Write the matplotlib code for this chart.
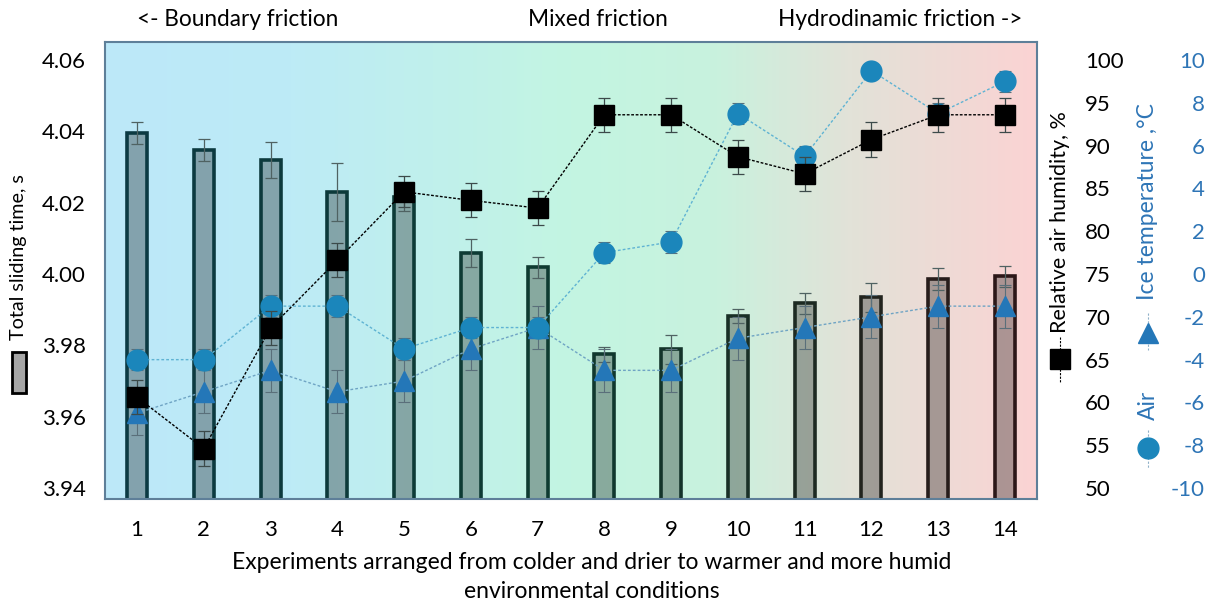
import numpy as np
import matplotlib
matplotlib.use('Agg')
import matplotlib.pyplot as plt
from matplotlib.colors import LinearSegmentedColormap
from matplotlib.lines import Line2D
from matplotlib.patches import Rectangle

plt.rcParams['font.family'] = ['Lato', 'DejaVu Sans']
plt.rcParams['axes.unicode_minus'] = False

# experiments 1..14, ordered cold/dry -> warm/humid
experiments = list(range(1, 15))

# total sliding time, s (bars)
sliding_time = [4.0395, 4.0348, 4.0320, 4.0230, 4.0216, 4.0059, 4.0019,
                3.9775, 3.9789, 3.9882, 3.9918, 3.9935, 3.9986, 3.9994]
sliding_err = [0.003, 0.003, 0.005, 0.008, 0.004, 0.004, 0.003,
               0.002, 0.004, 0.002, 0.003, 0.004, 0.003, 0.003]

# relative air humidity, %
humidity = [60.6, 54.6, 68.7, 76.6, 84.6, 83.6, 82.7,
            93.6, 93.6, 88.7, 86.7, 90.7, 93.6, 93.6]
humidity_err = [2, 2, 2, 2, 1.8, 2, 2, 2, 2, 2, 2, 2, 2, 2]

# air temperature, C
air_temp = [-4, -4, -1.5, -1.5, -3.5, -2.5, -2.5,
            1.0, 1.5, 7.5, 5.5, 9.5, 7.5, 9.0]
air_err = [0.5, 0.5, 0.5, 0.5, 0.5, 0.5, 0.5,
           0.5, 0.5, 0.5, 0.5, 0.3, 0.5, 0.5]

# ice temperature, C
ice_temp = [-6.5, -5.5, -4.5, -5.5, -5.0, -3.5, -2.5,
            -4.5, -4.5, -3.0, -2.5, -2.0, -1.5, -1.5]
ice_err = [1.0, 1.0, 1.0, 1.0, 1.0, 1.0, 1.0,
           1.0, 1.0, 1.0, 1.0, 1.0, 1.0, 1.0]

left_ticks = [3.94, 3.96, 3.98, 4.00, 4.02, 4.04, 4.06]
humidity_ticks = [50, 55, 60, 65, 70, 75, 80, 85, 90, 95, 100]
temp_ticks = [-10, -8, -6, -4, -2, 0, 2, 4, 6, 8, 10]

BLUE = '#2e75b6'
FRAME = '#5e7f99'

fig = plt.figure(figsize=(12.15, 6.03), dpi=100)
ax = fig.add_axes([0.0864, 0.1725, 0.7671, 0.7578])

# background: blue -> mint -> pink
bg = LinearSegmentedColormap.from_list('bg', [
    (0.0, '#bce8f9'), (0.2, '#bdebf6'), (0.5, '#c3f5e2'),
    (0.65, '#c8f2de'), (0.8, '#e2e2d8'), (1.0, '#fbd3d3')])
ax.imshow(np.linspace(0, 1, 256).reshape(1, -1), cmap=bg, aspect='auto',
          extent=[0, 1, 0, 1], transform=ax.transAxes, zorder=0)

# bar outlines pick up the tint of the background behind them
edge_cmap = LinearSegmentedColormap.from_list('edge', [
    (0.0, '#0c3a44'), (0.5, '#0e3b30'), (0.75, '#1d2a22'), (1.0, '#2e1416')])
edge_colors = [edge_cmap((x - 0.52) / 13.96) for x in experiments]

ax.bar(experiments, [t - 3.9 for t in sliding_time], bottom=3.9, width=0.30,
       facecolor=(0, 0, 0, 0.30), edgecolor=edge_colors, linewidth=2.6, zorder=2)
ax.errorbar(experiments, sliding_time, yerr=sliding_err, fmt='none',
            ecolor='#4f6262', elinewidth=0.9, capsize=4, capthick=0.9, zorder=3)

ax.set_xlim(0.52, 14.48)
ax.set_ylim(3.937, 4.065)
ax.set_xticks(experiments)
ax.set_yticks(left_ticks)
ax.set_yticklabels([f'{v:.2f}' for v in left_ticks])
ax.tick_params(axis='both', length=0, labelsize=16, colors='black')
ax.tick_params(axis='x', pad=15)
ax.tick_params(axis='y', pad=14)
for s in ax.spines.values():
    s.set_color(FRAME)
    s.set_linewidth(1.5)
ax.set_xlabel('Experiments arranged from colder and drier to warmer and more humid\n'
              'environmental conditions', fontsize=16.5, labelpad=9, linespacing=1.45)
ax.xaxis.label.set_x(0.5225)

# temperature axis (air + ice)
ax_t = ax.twinx()
ax_t.errorbar(experiments, ice_temp, yerr=ice_err, fmt='none', ecolor='#5a6f7a',
              elinewidth=0.8, capsize=4, capthick=0.8, zorder=3)
ax_t.plot(experiments, ice_temp, linestyle=(0, (2, 1.5)), color='#6fa4c4', lw=1,
          marker='^', markersize=15, markerfacecolor='#2477b8',
          markeredgecolor='#2477b8', zorder=4)
ax_t.errorbar(experiments, air_temp, yerr=air_err, fmt='none', ecolor='#5a6f7a',
              elinewidth=0.8, capsize=4, capthick=0.8, zorder=3)
ax_t.plot(experiments, air_temp, linestyle=(0, (2, 1.5)), color='#5fb3d3', lw=1,
          marker='o', markersize=15, markerfacecolor='#1b86bb',
          markeredgecolor='#1b86bb', zorder=4)
ax_t.set_ylim(-10.51, 10.84)
ax_t.set_yticks(temp_ticks)
ax_t.tick_params(axis='y', length=0, labelsize=16, colors=BLUE, pad=121)
for lab in ax_t.get_yticklabels():
    lab.set_horizontalalignment('right')
for s in ax_t.spines.values():
    s.set_visible(False)

# humidity axis
ax_h = ax.twinx()
ax_h.errorbar(experiments, humidity, yerr=humidity_err, fmt='none', ecolor='#3c4a4a',
              elinewidth=0.9, capsize=4, capthick=0.9, zorder=3)
ax_h.plot(experiments, humidity, linestyle=(0, (2, 1.2)), color='black', lw=1,
          marker='s', markersize=15, markerfacecolor='black',
          markeredgecolor='black', zorder=4)
ax_h.set_ylim(48.71, 102.1)
ax_h.set_yticks(humidity_ticks)
ax_h.tick_params(axis='y', length=0, labelsize=16, colors='black', pad=34.5)
for s in ax_h.spines.values():
    s.set_visible(False)

# regime labels above the frame
for x, txt in [(238, '<- Boundary friction'), (598, 'Mixed friction'),
               (900, 'Hydrodinamic friction ->')]:
    fig.text(x / 1215, 1 - 20 / 603, txt, ha='center', va='center', fontsize=16.3)

# axis titles with their key markers
fig.text(19 / 1215, 1 - 257 / 603, 'Total sliding time, s', rotation=90,
         ha='center', va='center', fontsize=14.2)
fig.add_artist(Rectangle((12 / 1215, 1 - 393 / 603), 14 / 1215, 41 / 603,
                         transform=fig.transFigure, facecolor='#a6a6a6',
                         edgecolor='black', linewidth=2))

fig.text(1060 / 1215, 1 - 222 / 603, 'Relative air humidity, %', rotation=90,
         ha='center', va='center', fontsize=15.5)
fig.add_artist(Line2D([1060 / 1215] * 2, [1 - 337 / 603, 1 - 383 / 603],
                      transform=fig.transFigure, color='black', lw=0.8,
                      linestyle=(0, (2, 1.2))))
fig.add_artist(Line2D([1060 / 1215], [1 - 359 / 603], transform=fig.transFigure,
                      marker='s', markersize=15, color='black', linestyle='none'))

fig.text(1148 / 1215, 1 - 202 / 603, 'Ice temperature ,°C', rotation=90,
         ha='center', va='center', fontsize=16.5, color=BLUE)
fig.add_artist(Line2D([1148 / 1215] * 2, [1 - 313 / 603, 1 - 350 / 603],
                      transform=fig.transFigure, color='#8fb0c8', lw=0.8,
                      linestyle=(0, (2, 1.5))))
fig.add_artist(Line2D([1148 / 1215], [1 - 333 / 603], transform=fig.transFigure,
                      marker='^', markersize=15, color='#2477b8', linestyle='none'))

fig.text(1148 / 1215, 1 - 405 / 603, 'Air', rotation=90,
         ha='center', va='center', fontsize=16.5, color=BLUE)
fig.add_artist(Line2D([1148 / 1215] * 2, [1 - 430 / 603, 1 - 468 / 603],
                      transform=fig.transFigure, color='#8fb0c8', lw=0.8,
                      linestyle=(0, (2, 1.5))))
fig.add_artist(Line2D([1148 / 1215], [1 - 448 / 603], transform=fig.transFigure,
                      marker='o', markersize=15, color='#1b86bb', linestyle='none'))

fig.savefig('out.png', dpi=100)
